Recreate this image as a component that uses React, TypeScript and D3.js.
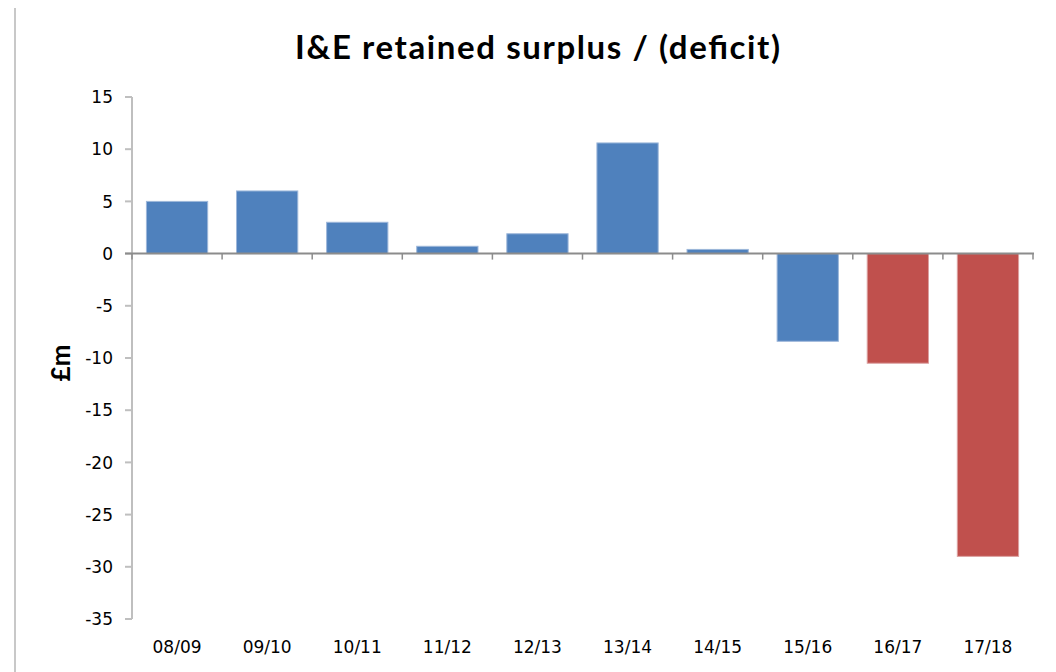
import React from "react";
import * as d3 from "d3";

const categories = ["08/09", "09/10", "10/11", "11/12", "12/13", "13/14", "14/15", "15/16", "16/17", "17/18"];
const values = [5.0, 6.0, 3.0, 0.7, 1.9, 10.6, 0.4, -8.4, -10.5, -29.0];
const barColors = ["#4F81BD", "#4F81BD", "#4F81BD", "#4F81BD", "#4F81BD", "#4F81BD", "#4F81BD", "#4F81BD", "#C0504D", "#C0504D"];
const yTicks = [15, 10, 5, 0, -5, -10, -15, -20, -25, -30, -35];
const title = "I&E retained surplus / (deficit)";
const yLabel = "£m";

export default function App() {
  const W = 1056, H = 672;
  const x0 = 132, x1 = 1033;
  const yTop = 97, yBot = 619;
  const x = d3.scaleBand<string>().domain(categories).range([x0, x1]).paddingInner(0.32).paddingOuter(0.16);
  const y = d3.scaleLinear().domain([-35, 15]).range([yBot, yTop]);
  const step = x.step();
  const tickFont = "DejaVu Sans, Verdana, sans-serif";

  return (
    <div style={{ position: "absolute", left: 0, top: 0 }}>
      <svg width={W} height={H} style={{ display: "block", background: "#fff" }}>
        <line x1={15} x2={15} y1={8} y2={H} stroke="#c8c8c8" strokeWidth={2} />
        <text x={295} y={59} textAnchor="start" textLength={485} lengthAdjust="spacing" fontFamily="Lato, Open Sans, sans-serif" fontWeight="bold" fontSize={33} fill="#000">
          {title}
        </text>
        <text
          transform={`translate(70,${363}) rotate(-90)`}
          textAnchor="middle"
          fontFamily="Lato, Open Sans, sans-serif"
          fontWeight="bold"
          fontSize={26}
          fill="#000"
        >
          {yLabel}
        </text>
        {/* bars */}
        {categories.map((c, i) => {
          const v = values[i];
          const yv = y(v), y0 = y(0);
          return (
            <rect
              key={c}
              x={x(c)}
              y={Math.min(yv, y0)}
              width={x.bandwidth()}
              height={Math.abs(yv - y0)}
              fill={barColors[i]}
              stroke={i >= 8 ? "#dba0a0" : "#9db7da"}
              strokeWidth={1}
            />
          );
        })}
        {/* y axis */}
        <line x1={x0} x2={x0} y1={yTop} y2={yBot} stroke="#bfbfbf" strokeWidth={2} />
        {yTicks.map((t) => (
          <g key={t}>
            <line x1={x0 - 7} x2={x0} y1={y(t)} y2={y(t)} stroke="#bfbfbf" strokeWidth={2} />
            <text x={113} y={y(t)} dy="0.36em" textAnchor="end" fontFamily={tickFont} fontSize={17} fill="#000">
              {String(t)}
            </text>
          </g>
        ))}
        {/* x axis at zero */}
        <line x1={x0 - 7} x2={x1 + 1} y1={y(0)} y2={y(0)} stroke="#8c8c8c" strokeWidth={2} />
        {d3.range(categories.length + 1).map((i) => (
          <line key={i} x1={x0 + i * step} x2={x0 + i * step} y1={y(0)} y2={y(0) + 6} stroke="#8c8c8c" strokeWidth={1.5} />
        ))}
        {categories.map((c) => (
          <text key={c} x={(x(c) as number) + x.bandwidth() / 2} y={653} textAnchor="middle" fontFamily={tickFont} fontSize={17} fill="#000">
            {c}
          </text>
        ))}
      </svg>
    </div>
  );
}
